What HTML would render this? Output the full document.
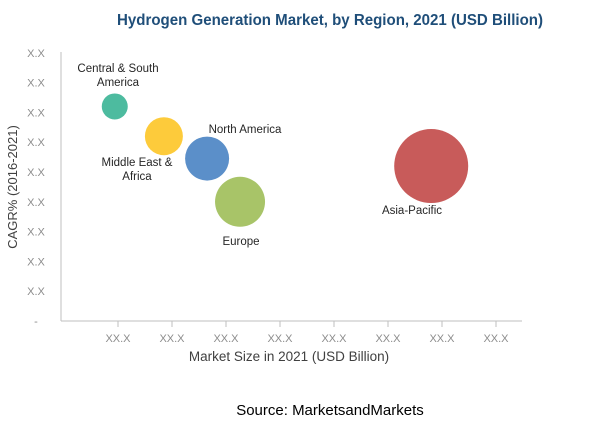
<!DOCTYPE html>
<html><head><meta charset="utf-8"><style>
html,body{margin:0;padding:0;background:#fff;}
svg{display:block;font-family:"Liberation Sans",sans-serif;}
</style></head><body>
<svg id="chart" width="600" height="422" viewBox="0 0 600 422">
<text x="330" y="25" text-anchor="middle" font-size="15.5" font-weight="bold" fill="#1f4e79" textLength="426" lengthAdjust="spacingAndGlyphs">Hydrogen Generation Market, by Region, 2021 (USD Billion)</text>
<g id="axes"></g>
<g id="bubbles"></g>
<text x="330" y="415" text-anchor="middle" font-size="15" fill="#000">Source: MarketsandMarkets</text>
</svg>
<script>
const regions = ["Central & South America","Middle East & Africa","North America","Europe","Asia-Pacific"];
const marketSize = [0.94, 1.85, 2.65, 3.26, 6.80];
const cagr = [7.2, 6.2, 5.45, 4.0, 5.2];
const bubbleSize = [13, 19, 22, 25, 37];
const colors = ["#4dbb9f","#fdcb3b","#5b8fc9","#a8c468","#c85b5a"];
const xTickLabels = ["XX.X","XX.X","XX.X","XX.X","XX.X","XX.X","XX.X","XX.X"];
const yTickLabels = ["-","X.X","X.X","X.X","X.X","X.X","X.X","X.X","X.X","X.X"];

const NS="http://www.w3.org/2000/svg";
const x0=64, xStep=54, y0=321, yStep=29.8;
const xs=v=>x0+v*xStep, ys=v=>y0-v*yStep;
function mk(t,a,p){const e=document.createElementNS(NS,t);for(const k in a)e.setAttribute(k,a[k]);p.appendChild(e);return e;}
const ax=document.getElementById('axes');
let l=mk('line',{x1:61,y1:52,x2:61,y2:321,stroke:'#bfbfbf','stroke-width':1},ax);


l=mk('line',{x1:61,y1:321,x2:522,y2:321,stroke:'#bfbfbf','stroke-width':1},ax);


xTickLabels.forEach((t,i)=>{
  const x=xs(i+1);
  const tk=mk('line',{x1:x,y1:321,x2:x,y2:327,stroke:'#bfbfbf'},ax);
  
  
  const tx=mk('text',{x:x,y:342,'text-anchor':'middle','font-size':11,fill:'#8c8c8c'},ax);
  tx.textContent=t;
  
  
});
yTickLabels.forEach((t,i)=>{
  const tx=mk('text',{x:36,y:ys(i)+4,'text-anchor':'middle','font-size':11,fill:'#8c8c8c'},ax);
  tx.textContent=t;
  
  
});
let tt=mk('text',{x:289,y:361,'text-anchor':'middle','font-size':13.5,fill:'#404040'},ax);
tt.textContent='Market Size in 2021 (USD Billion)';


tt=mk('text',{x:0,y:0,'text-anchor':'middle','font-size':13,fill:'#404040',transform:'translate(17,187) rotate(-90)'},ax);
tt.textContent='CAGR% (2016-2021)';



const bg=document.getElementById('bubbles');
const labelPos=[
  [[118,72],[118,86]],
  [[137,166],[137,180]],
  [[245,133]],
  [[241,245]],
  [[412,214]]
];
const labelLines=[["Central & South","America"],["Middle East &","Africa"],["North America"],["Europe"],["Asia-Pacific"]];
regions.forEach((r,i)=>{
  const c=mk('circle',{cx:xs(marketSize[i]),cy:ys(cagr[i]),r:bubbleSize[i],fill:colors[i]},bg);
  
  
  labelLines[i].forEach((s,j)=>{
    const t=mk('text',{x:labelPos[i][j][0],y:labelPos[i][j][1],'text-anchor':'middle','font-size':11.5,fill:'#262626'},bg);
    t.textContent=s;
    
    
  });
});
</script>
</body></html>
